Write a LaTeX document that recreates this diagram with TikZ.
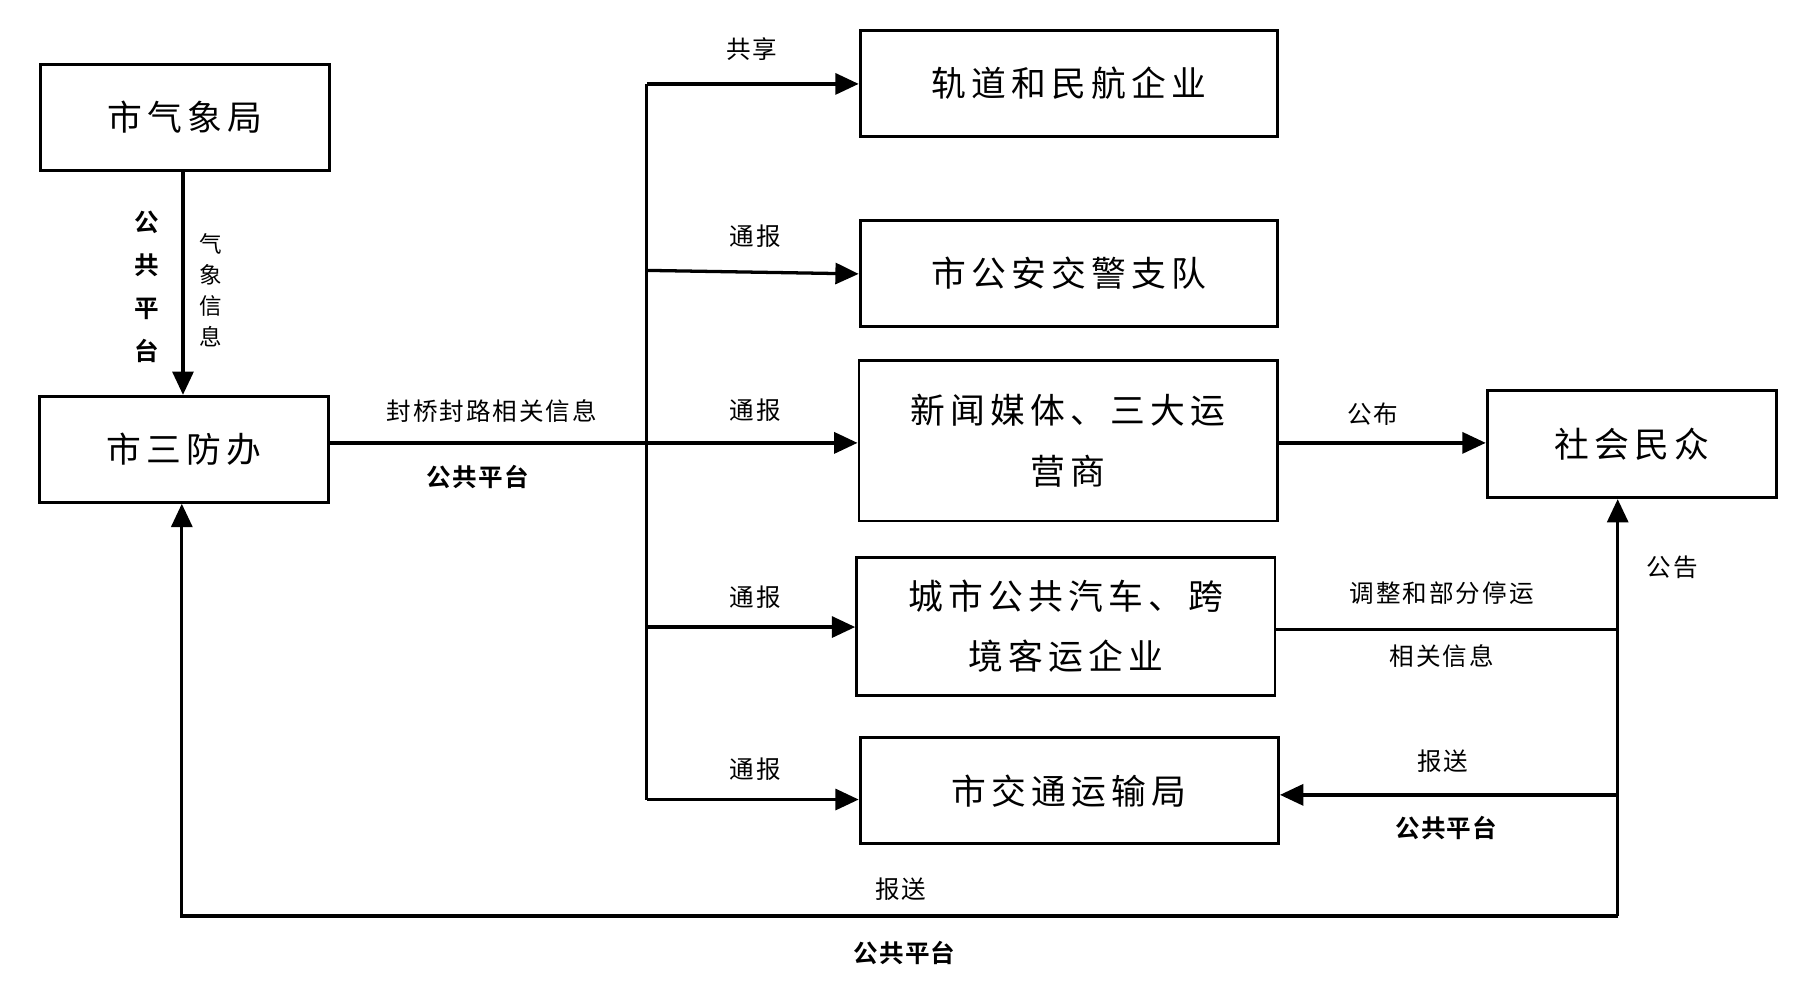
\documentclass[tikz,border=0pt]{standalone}
\usepackage{fontspec}
\setmainfont{Noto Sans CJK SC}
\newfontfamily\boxfont[LetterSpace=15]{Noto Sans CJK SC}
\newfontfamily\labfont[LetterSpace=8]{Noto Sans CJK SC}
\newfontfamily\boldfont[LetterSpace=5]{Noto Sans CJK SC Bold}
\usetikzlibrary{arrows.meta}
\begin{document}
\begin{tikzpicture}[x=0.02cm,y=-0.02cm,
  ln/.style={line width=1.6pt},
  arr/.style={ln,-{Triangle[length=0.4cm,width=0.36cm]}},
  bx/.style={draw,line width=1.4pt,inner sep=0pt,align=center,font=\boxfont\fontsize{17}{29.5}\selectfont},
  lab/.style={font=\labfont\fontsize{12}{14}\selectfont,inner sep=0pt},
  bl/.style={font=\boldfont\fontsize{12}{14}\selectfont,inner sep=0pt}]
\useasboundingbox (0,0) rectangle (1553,862);
\fill[white] (0,0) rectangle (1553,862);
\node[bx,minimum width=248*0.02cm,minimum height=91*0.02cm] (qx) at (159,100.5) {市气象局};
\node[bx,minimum width=248*0.02cm,minimum height=91*0.02cm] (sf) at (158,385.5) {市三防办};
\node[bx,minimum width=358*0.02cm,minimum height=91*0.02cm] (gd) at (917,71.5) {轨道和民航企业};
\node[bx,minimum width=358*0.02cm,minimum height=91*0.02cm] (ga) at (917,234.5) {市公安交警支队};
\node[bx,minimum width=359*0.02cm,minimum height=138*0.02cm] (xw) at (916.5,378) {新闻媒体、三大运\\营商};
\node[bx,minimum width=359*0.02cm,minimum height=119*0.02cm] (cs) at (914.5,537.5) {城市公共汽车、跨\\境客运企业};
\node[bx,minimum width=359*0.02cm,minimum height=91*0.02cm] (jt) at (917.5,678.5) {市交通运输局};
\node[bx,minimum width=248*0.02cm,minimum height=92*0.02cm] (sh) at (1400,381) {社会民众};
\coordinate (bt) at (555,72);
\coordinate (bb) at (555,686);
\coordinate (rb) at (1388,786);
\coordinate (lb) at (156,786);
\draw[arr] (qx.south -| 157,0) -- (sf.north -| 157,0);
\draw[ln] (bt) -- (bb);
\draw[arr] (sf.east |- 0,380) -- (xw.west |- 0,380);
\draw[arr] (bt) -- (gd.west |- bt);
\draw[arr] (555,232) -- (ga.west |- 0,235);
\draw[arr] (555,538) -- (cs.west |- 0,538);
\draw[arr] (bb) -- (jt.west |- bb);
\draw[arr] (xw.east |- 0,380) -- (sh.west |- 0,380);
\draw[ln] (cs.east |- 0,540) -- (1388,540);
\draw[arr] (1388,682) -- (jt.east |- 0,682);
\draw[arr] (rb) -- (sh.south -| rb);
\draw[arr] (rb) -- (lb) -- (sf.south -| lb);
\node[lab] (l1) at (645,42) {共享};
\node[lab] (l2) at (648,203) {通报};
\node[lab] (l3) at (648,352) {通报};
\node[lab] (l4) at (648,512) {通报};
\node[lab] (l5) at (648,660) {通报};
\node[lab] (l6) at (422,353) {封桥封路相关信息};
\node[bl] (l7) at (410,409) {公共平台};
\node[lab] (l8) at (1178,355) {公布};
\node[lab] (l9) at (1435,487) {公告};
\node[lab] (l10) at (1237,509) {调整和部分停运};
\node[lab] (l11) at (1237,563) {相关信息};
\node[lab] (l12) at (1238,653) {报送};
\node[bl] (l13) at (1241,710) {公共平台};
\node[lab] (l14) at (773,763) {报送};
\node[bl] (l15) at (776,818) {公共平台};
\node[bl,align=center,font=\boldfont\fontsize{12}{21}\selectfont] (l16) at (126,246) {公\\共\\平\\台};
\node[lab,align=center,font=\labfont\fontsize{11}{15}\selectfont] (l17) at (181,249) {气\\象\\信\\息};
\end{tikzpicture}
\end{document}
